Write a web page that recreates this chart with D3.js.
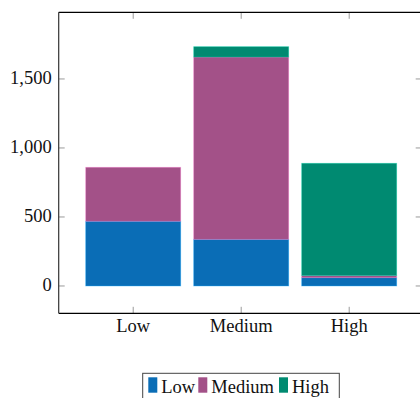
<!DOCTYPE html>
<html lang="en">
<head>
<meta charset="UTF-8">
<title>Stacked bars</title>
<style>
	body { margin: 0; background: #fff; }
	text { font-family: "Liberation Serif", "Times New Roman", serif; fill: #111; }
</style>
</head>
<body>
<script src="https://d3js.org/d3.v7.min.js"></script>
<script>
	var width = 420, height = 398;

	// data
	var categories = ["Low", "Medium", "High"];
	var seriesNames = ["Low", "Medium", "High"];
	var lowVals = [469, 338, 60];
	var mediumVals = [391, 1321, 15];
	var highVals = [0, 75, 814];
	var yTicks = [0, 500, 1000, 1500];
	var colors = ["#0a6db6", "#a35188", "#008a71"];

	// plot box (window.top is taken, so prefixed names)
	var pLeft = 58.7, pRight = 423.7, pTop = 12.3, pBottom = 313.3;
	var fs = "18.5px";

	var svg = d3.select("body").append("svg")
		.attr("width", width).attr("height", height);

	var x = d3.scaleBand().domain(categories).range([pLeft, pRight])
		.paddingInner(0.12).paddingOuter(0.25);
	var y = d3.scaleLinear().domain([-198, 1983]).range([pBottom, pTop]);

	var rows = categories.map(function(c, i) {
		return {cat: c, Low: lowVals[i], Medium: mediumVals[i], High: highVals[i]};
	});
	var stacked = d3.stack().keys(seriesNames)(rows);

	// bars
	stacked.forEach(function(layer, k) {
		svg.append("g").selectAll("rect").data(layer.filter(function(d) { return d[1] - d[0] > 0; }))
			.enter().append("rect")
			.attr("x", function(d) { return x(d.data.cat); })
			.attr("width", x.bandwidth())
			.attr("y", function(d) { return y(d[1]); })
			.attr("height", function(d) { return y(d[0]) - y(d[1]); })
			.attr("fill", colors[k])
			.attr("stroke", d3.color(colors[k]).brighter(1.2))
			.attr("stroke-opacity", 0.45)
			.attr("stroke-width", 0.8);
	});

	// ticks (inward, on all four sides)
	var tickCol = "#9a9a9a";
	categories.forEach(function(c) {
		var cx = x(c) + x.bandwidth() / 2;
		svg.append("line").attr("x1", cx).attr("x2", cx).attr("y1", pBottom).attr("y2", pBottom - 6.5)
			.attr("stroke", tickCol).attr("stroke-width", 1);
		svg.append("line").attr("x1", cx).attr("x2", cx).attr("y1", pTop).attr("y2", pTop + 6.5)
			.attr("stroke", tickCol).attr("stroke-width", 1);
		svg.append("text").attr("x", cx).attr("y", 332).attr("text-anchor", "middle")
			.attr("font-size", fs).text(c);
	});
	yTicks.forEach(function(t) {
		var ty = y(t);
		svg.append("line").attr("x1", pLeft).attr("x2", pLeft + 6).attr("y1", ty).attr("y2", ty)
			.attr("stroke", tickCol).attr("stroke-width", 1);
		svg.append("line").attr("x1", pRight - 2).attr("x2", pRight - 8).attr("y1", ty).attr("y2", ty)
			.attr("stroke", tickCol).attr("stroke-width", 1);
		svg.append("text").attr("x", 51.7).attr("y", ty + 5).attr("text-anchor", "end")
			.attr("font-size", fs).text(d3.format(",")(t));
	});

	// frame
	svg.append("line").attr("x1", pLeft).attr("x2", width).attr("y1", pTop).attr("y2", pTop)
		.attr("stroke", "#000").attr("stroke-width", 1.2);
	svg.append("line").attr("x1", pLeft).attr("x2", width).attr("y1", pBottom).attr("y2", pBottom)
		.attr("stroke", "#000").attr("stroke-width", 1.2);
	svg.append("line").attr("x1", pLeft).attr("x2", pLeft).attr("y1", pTop).attr("y2", pBottom)
		.attr("stroke", "#333").attr("stroke-width", 1.2);

	// legend
	var lg = svg.append("g");
	lg.append("rect").attr("x", 142.7).attr("y", 373.3).attr("width", 196.6).attr("height", 40)
		.attr("fill", "#fff").attr("stroke", "#444").attr("stroke-width", 1);
	var legX = [148.3, 198.3, 279];
	seriesNames.forEach(function(s, i) {
		lg.append("rect").attr("x", legX[i]).attr("y", 377.3).attr("width", 9).attr("height", 15.4)
			.attr("fill", colors[i]);
		lg.append("text").attr("x", legX[i] + 13).attr("y", 392.5)
			.attr("font-size", fs).text(s);
	});
</script>
</body>
</html>
